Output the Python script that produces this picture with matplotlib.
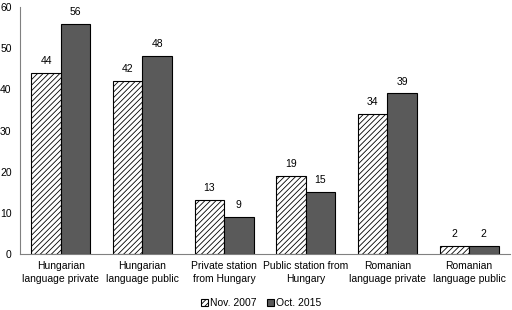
import numpy as np
import matplotlib.pyplot as plt

plt.rcParams['font.family'] = ['Liberation Sans', 'DejaVu Sans']
plt.rcParams['hatch.linewidth'] = 0.6

categories = ["Hungarian\nlanguage private", "Hungarian\nlanguage public",
              "Private station\nfrom Hungary", "Public station from\nHungary",
              "Romanian\nlanguage private", "Romanian\nlanguage public"]
nov2007 = [44, 42, 13, 19, 34, 2]
oct2015 = [56, 48, 9, 15, 39, 2]

fs = 7.5
fig = plt.figure(figsize=(5.12, 3.10), dpi=100)
ax = fig.add_axes([0.039, 0.181, 0.957, 0.796])

x = np.arange(len(categories))
w = 0.36
b1 = ax.bar(x - w/2, nov2007, w, color='white', edgecolor='black', hatch='//////',
            linewidth=0.8, label='Nov. 2007')
b2 = ax.bar(x + w/2, oct2015, w, color='#5a5a5a', edgecolor='black',
            linewidth=0.8, label='Oct. 2015')

for bars, vals in ((b1, nov2007), (b2, oct2015)):
    for r, v in zip(bars, vals):
        ax.text(r.get_x() + r.get_width()/2, v + 1.7, str(v), ha='center', va='bottom', fontsize=fs)

ax.set_ylim(0, 60)
ax.set_xlim(-0.5, 5.5)
ax.set_yticks(range(0, 61, 10))
ax.set_xticks(x)
ax.set_xticklabels(categories, fontsize=fs, linespacing=1.35)
ax.tick_params(axis='y', labelsize=fs, length=0, pad=6)
ax.tick_params(axis='x', length=0, pad=5)
for s in ['top', 'right']:
    ax.spines[s].set_visible(False)
for s in ['left', 'bottom']:
    ax.spines[s].set_color('#808080')

fig.legend(loc='lower center', bbox_to_anchor=(0.51, -0.025), ncol=2, frameon=False,
           fontsize=fs, handlelength=0.7, handleheight=0.7, handletextpad=0.2, columnspacing=1.0)

fig.savefig('out.png', dpi=100)
